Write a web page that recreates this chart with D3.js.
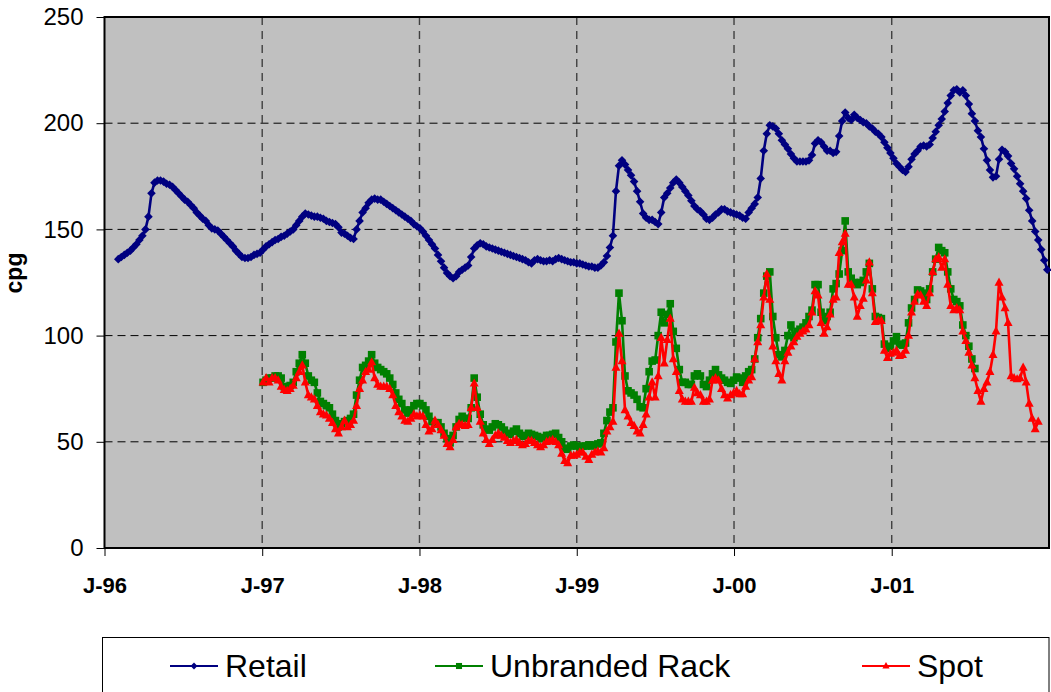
<!DOCTYPE html>
<html>
<head>
<meta charset="utf-8">
<script src="https://cdn.jsdelivr.net/npm/d3@7"></script>
<style>
  body { margin: 0; background: #ffffff; }
  text { font-family: "Liberation Sans", Arial, sans-serif; }
</style>
</head>
<body>
<svg id="chart" width="1051" height="692"></svg>
<script>
// Weekly gasoline prices, cents per gallon
const retailStart = "1996-02-02";
const wholesaleStart = "1997-01-03";

const retail = [
  136,137,138,139,140,141.5,143,145,147,150,156,167,172,173,173,172.5,171.5,171,170,168.5,
  167,165.5,164,163,161.5,160,158,156.5,155,154,152,150.5,150,149.5,148,146.5,145,143.5,142,140,
  138.5,137,136.5,136.5,137,138,138.5,139,
  140.5,142,143,144,145,145.5,146.5,147,148,149,150,152,154,156,157.5,157,156.5,156,156,155.5,
  155,154,153.5,153,152.5,151,148.5,148,147,146,145.5,150,154,158,160,162.5,164,164.5,164,164,
  163,162,161,160,159,158,157,156,155,154,152.5,151.5,
  150.5,149,147,145,143,141,138,135,132,129.5,128,127,128,130,131,132,133,137,141,142.5,
  143.5,143,142,141.5,141,140.5,140,139.5,139,138.5,138,137.5,137,136.5,136,135.5,134.5,134,135.5,136,
  135.5,135,135,135.5,135,136,136.5,136,135.5,135,134.5,134.5,134,
  134,133.5,133,132.5,132.5,132,132,133,134.5,137.5,141.5,147,168,180,182.5,180.5,178,175.5,172.5,168,
  163,157.5,155.5,154.5,154.5,153.5,152.5,158,165,167,169.5,172,173.5,172,170,168,166,163.5,161,159.5,
  158.5,157,155,154.5,155.5,157,158,159.5,159.5,158.5,158,157.5,
  157,156.5,155.5,155,158,160,162,165,174,187,195,199,198.5,197.5,195,192,190,188,185.5,183.5,
  182,182,182,182,182.5,185,190.5,192,191,189,187,187,186,186.5,194,201,205,202.5,201.5,204,
  202.5,201.5,200.5,200,198.5,197.5,196,195,193.5,191,188.5,186,
  183.5,181,179.5,178,177,179.5,183,185.5,187,189,189.5,189,190,193,196,199,202,205.5,209.5,213,
  215.5,216,214.5,215.5,213,209,204.5,201,196.5,193.5,188,182.5,178,174.5,175,183,187.5,186.5,184.5,181,
  178.5,175,171.5,168,164.5,159,154,149,145,140.5,135.5,131
];

const rack = [
  78,79,80,80,81,81,80,76,76,76.5,78,83,87,91,87,81,79,78,73,69,
  68,67,66,63,60,57,58.5,59.5,60,61,63,72,79,85,86,88,91,87,85,84,
  83,82,80,77,73,70,68,65,63.5,65,67,68,
  68,67,65,62,59.5,59,59,57,54,51.5,49.5,53,57,60.5,62,61,61,66,80,71,
  63,58,56,55.5,57,58.5,58,57,55.5,54,53.5,55,56,54,52.5,53,54,53.5,53,52.5,
  51.5,52,53,53,53.5,54,52,50,47,46.5,48,48.5,
  48,47.5,48,48,48.5,48,48.5,49,49.5,54,60,64,66,97,120,107,81,74,73,72,
  70,66.5,66,75,83,88,88.5,100,111,106,110,115,102,94,84,78,78,77,77,81,
  82,81,77,76,79,82,84,81.5,80,79,78,77.5,
  79,80.5,80,78,81,83,84,89,99,108,120,128,130,109,99,91,90,93,100,105,
  99,102,103,104,106,109,112,124,124,111,107,109,111,122,124.5,129,140,154,130,127,
  125,124,125,126,130,134,122,109,108.5,108,96,94,
  95,97.5,99.5,96,95.5,96.5,106,113,117,121.5,121,120,117,122,130,136,141.5,140,139,130,
  122,117,116,114,105,100,95,89,84.5
];

const spot = [
  78,80,78,80,80,79,76,74.5,74,75,76.5,80,83,86,78,72,71,70,67,64,
  63,62.5,61,59,56,54,57,60,57,58,60,67,75,79,83,84,87.5,80,77,76,
  76,76,75,72,67,64,62,60,59.5,61,63,62,
  62.5,62,58,55,56,60,58,55.5,53,49,47.5,51,57,58.5,58,57.5,58,66,77.5,66,
  59.5,54,51,49,51,53,54,53,52,50.5,49.5,50.5,51,49.5,48.5,49,50.5,50.5,49.5,48.5,
  47.5,48.5,50,50.5,51,50,48.5,44.5,41,40,43.5,43.5,
  44,45,45,43,41.5,44,45,45.5,45,47,55,57,59.5,85,101,88,65,62,59,57.5,
  55,54,58,63,71,78,71,81,99,87,98,108,89,83,74,70,69,69,69,75.5,
  73,72,69,69,70,79,80,79,75,72,70.5,72,
  73,74,72.5,72.5,76,79,80.5,89,97,105,118,129,117,95,88,82,79,88,92,95,
  97,99.5,101,102,103,105,111,121,119,106,101,104,110,117,118,139,144,148,124,124,
  118,109,114,117.5,126,134.5,120,106.5,107,107,93,89.5,
  91.5,92,93,90.5,91,93,100,111,116,119.5,119,116,114,120,130,136,137,132,136,124,
  114,112,113,112,102,97.5,92,86,80,74,69,75,78,83,91,102,125,118,113,106,
  81,80,79.5,80,85,78,68,61,56,59.5
];

const yTicks = [0, 50, 100, 150, 200, 250];
const xTickDates = ["1996-01-01", "1997-01-01", "1998-01-01", "1999-01-01", "2000-01-01", "2001-01-01"];
const xTickLabels = ["J-96", "J-97", "J-98", "J-99", "J-00", "J-01"];
const seriesNames = ["Retail", "Unbranded Rack", "Spot"];
const seriesColors = ["#000080", "#008000", "#FF0000"];

// ---------------------------------------------------------------------------
const svg = d3.select("#chart");
const plot = { left: 104.5, right: 1049, top: 17, bottom: 548 };
const parse = d3.utcParse("%Y-%m-%d");

const x = d3.scaleUtc()
  .domain([parse("1996-01-01"), parse("2002-01-01")])
  .range([plot.left, plot.right]);
const y = d3.scaleLinear().domain([0, 250]).range([plot.bottom, plot.top]);

const weekly = (start, values) => values.map((v, i) => ({
  date: d3.utcDay.offset(parse(start), 7 * i), value: v
}));

const series = [
  { name: seriesNames[0], color: seriesColors[0], data: weekly(retailStart, retail), marker: "diamond" },
  { name: seriesNames[1], color: seriesColors[1], data: weekly(wholesaleStart, rack), marker: "square" },
  { name: seriesNames[2], color: seriesColors[2], data: weekly(wholesaleStart, spot), marker: "triangle" }
];

const markerPath = {
  diamond: "M0,-4.3L4.3,0L0,4.3L-4.3,0Z",
  square: "M-3.8,-3.8H3.8V3.8H-3.8Z",
  triangle: "M0,-5L4.5,3.2H-4.5Z"
};

// plot background
svg.append("rect")
  .attr("x", plot.left).attr("y", plot.top)
  .attr("width", plot.right - plot.left).attr("height", plot.bottom - plot.top)
  .attr("fill", "#C0C0C0");

// gridlines
svg.append("g").selectAll("line")
  .data(yTicks.filter(t => t > 0 && t < 250))
  .join("line")
  .attr("x1", plot.left).attr("x2", plot.right)
  .attr("y1", d => y(d)).attr("y2", d => y(d))
  .attr("stroke", "#000").attr("stroke-width", 1)
  .attr("stroke-dasharray", "8,5");

svg.append("g").selectAll("line")
  .data(xTickDates.slice(1).map(parse))
  .join("line")
  .attr("x1", d => x(d)).attr("x2", d => x(d))
  .attr("y1", plot.top).attr("y2", plot.bottom)
  .attr("stroke", "#404040").attr("stroke-width", 1.4)
  .attr("stroke-dasharray", "8,6");

// axes
const yAxis = svg.append("g")
  .attr("transform", `translate(${plot.left},0)`)
  .call(d3.axisLeft(y).tickValues(yTicks).tickSize(8).tickPadding(13));
yAxis.select(".domain").remove();
yAxis.selectAll("line").attr("stroke", "#000");
yAxis.selectAll("text")
  .attr("font-family", "'Liberation Sans', Arial, sans-serif")
  .attr("font-size", 24).attr("fill", "#000");

const xAxis = svg.append("g")
  .attr("transform", `translate(0,${plot.bottom})`)
  .call(d3.axisBottom(x).tickValues(xTickDates.map(parse))
    .tickFormat((d, i) => xTickLabels[i]).tickSize(8).tickPadding(21));
xAxis.select(".domain").remove();
xAxis.selectAll("line").attr("stroke", "#000");
xAxis.selectAll("text")
  .attr("font-family", "'Liberation Sans', Arial, sans-serif")
  .attr("font-size", 22).attr("font-weight", "bold").attr("fill", "#000");

// y axis title
svg.append("text")
  .attr("transform", "translate(22,273) rotate(-90)")
  .attr("text-anchor", "middle")
  .attr("font-size", 23).attr("font-weight", "bold")
  .text("cpg");

// plot frame
svg.append("rect")
  .attr("x", plot.left).attr("y", plot.top)
  .attr("width", plot.right - plot.left).attr("height", plot.bottom - plot.top)
  .attr("fill", "none").attr("stroke", "#000").attr("stroke-width", 2);

// series lines and markers
const line = d3.line().x(d => x(d.date)).y(d => y(d.value));
series.forEach(s => {
  const g = svg.append("g");
  g.append("path")
    .datum(s.data)
    .attr("d", line)
    .attr("fill", "none")
    .attr("stroke", s.color)
    .attr("stroke-width", 2.6)
    .attr("stroke-linejoin", "round");
  g.selectAll("path.m")
    .data(s.data)
    .join("path")
    .attr("class", "m")
    .attr("d", markerPath[s.marker])
    .attr("transform", d => `translate(${x(d.date)},${y(d.value)})`)
    .attr("fill", s.color);
});

// legend
const legend = svg.append("g");
legend.append("rect")
  .attr("x", 102.5).attr("y", 637.5).attr("width", 946.5).attr("height", 80)
  .attr("fill", "#fff").attr("stroke", "#000").attr("stroke-width", 1);

const legendX = [170, 435, 862];
series.forEach((s, i) => {
  const lx = legendX[i];
  legend.append("line")
    .attr("x1", lx).attr("x2", lx + 48)
    .attr("y1", 666).attr("y2", 666)
    .attr("stroke", s.color).attr("stroke-width", 2.2);
  legend.append("path")
    .attr("d", markerPath[s.marker])
    .attr("transform", `translate(${lx + 24},666) scale(0.8)`)
    .attr("fill", s.color);
  legend.append("text")
    .attr("x", lx + 55).attr("y", 677)
    .attr("font-size", 32).attr("fill", "#000")
    .text(s.name);
});
</script>
</body>
</html>
